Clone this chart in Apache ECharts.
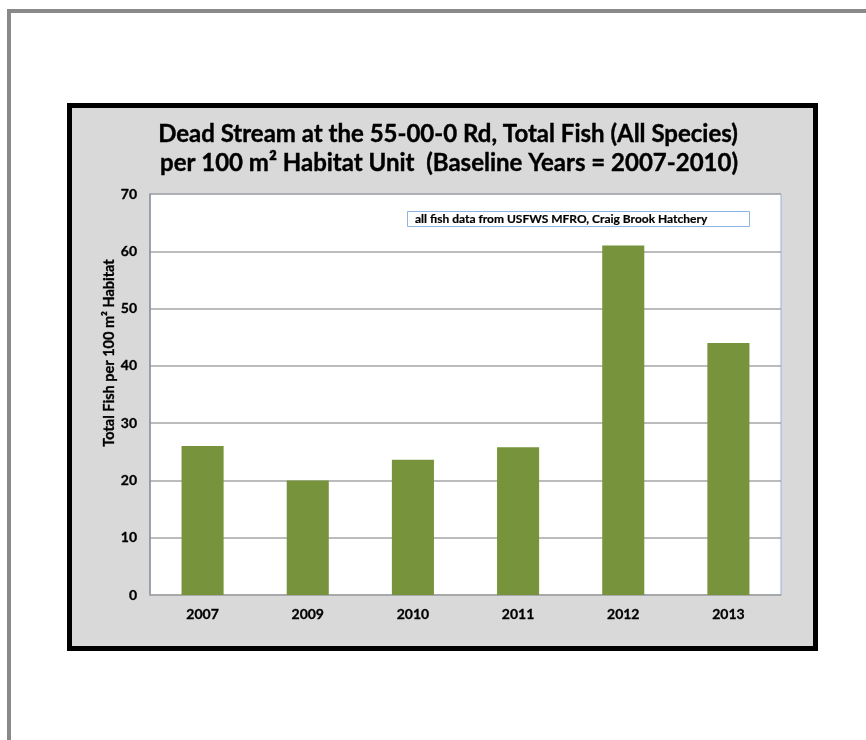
<!DOCTYPE html>
<html>
<head>
<meta charset="utf-8">
<script src="https://cdn.jsdelivr.net/npm/echarts@6/dist/echarts.min.js"></script>
<style>
  html, body { margin: 0; padding: 0; background: #ffffff; }
  #chart { width: 866px; height: 740px; }
</style>
</head>
<body>
<div id="chart"></div>
<script>
// Survey years and total fish counts per 100 m² of habitat
var years = ['2007', '2009', '2010', '2011', '2012', '2013'];
var totalFish = [26, 20, 23.6, 25.8, 61, 44];
var yTicks = { min: 0, max: 70, interval: 10 };

var titleLines = [
  'Dead Stream at the 55-00-0 Rd, Total Fish (All Species)',
  'per 100 m\u00b2 Habitat Unit  (Baseline Years = 2007-2010)'
];
var yTitle = 'Total Fish per 100 m\u00b2 Habitat';
var sourceNote = 'all fish data from USFWS MFRO, Craig Brook Hatchery';

var FONT = 'Lato, "Open Sans", sans-serif';

var chart = echarts.init(document.getElementById('chart'), null, { renderer: 'canvas' });

chart.setOption({
  backgroundColor: '#ffffff',
  animation: false,
  graphic: [
    // page frame lines
    { type: 'line', z: -10, shape: { x1: 7, y1: 11, x2: 866, y2: 11 },
      style: { stroke: '#898989', lineWidth: 4 } },
    { type: 'line', z: -10, shape: { x1: 9, y1: 9, x2: 9, y2: 740 },
      style: { stroke: '#898989', lineWidth: 4 } },
    // chart area panel
    { type: 'rect', z: -5, shape: { x: 69.5, y: 105.5, width: 746, height: 543 },
      style: { fill: '#d9d9d9', stroke: '#000000', lineWidth: 5 } },
    // title
    { type: 'text', z: 10, style: { text: titleLines[0], x: 448, y: 134, align: 'center', verticalAlign: 'middle',
      font: 'bold 24px ' + FONT, fill: '#000000', stroke: '#000000', lineWidth: 0.4 } },
    { type: 'text', z: 10, style: { text: titleLines[1], x: 449, y: 163, align: 'center', verticalAlign: 'middle',
      font: 'bold 24px ' + FONT, fill: '#000000', stroke: '#000000', lineWidth: 0.4 } },
    // y axis title
    { type: 'text', z: 10, x: 109, y: 353, rotation: Math.PI / 2,
      style: { text: yTitle, x: 0, y: 0, align: 'center', verticalAlign: 'middle',
        font: 'bold 14.5px ' + FONT, fill: '#000000', stroke: '#000000', lineWidth: 0.3 } },
    // source note box
    { type: 'rect', z: 10, shape: { x: 407.5, y: 211.5, width: 342, height: 15 },
      style: { fill: '#ffffff', stroke: '#8eb4e3', lineWidth: 1 } },
    { type: 'text', z: 11, style: { text: sourceNote, x: 415, y: 219, align: 'left', verticalAlign: 'middle',
      font: 'bold 12px ' + FONT, fill: '#000000', stroke: '#000000', lineWidth: 0.2 } }
  ],
  grid: {
    left: 150, top: 194, width: 631, height: 401,
    show: true, backgroundColor: '#ffffff', borderColor: '#95b3d7', borderWidth: 1,
    containLabel: false
  },
  xAxis: {
    type: 'category',
    data: years,
    axisLine: { show: true, lineStyle: { color: '#a6a6a6', width: 1.5 } },
    axisTick: { show: false },
    axisLabel: { color: '#000000', fontFamily: FONT, fontWeight: 'bold', fontSize: 14, margin: 12,
      textBorderColor: '#000000', textBorderWidth: 0.3 }
  },
  yAxis: {
    type: 'value',
    min: yTicks.min, max: yTicks.max, interval: yTicks.interval,
    axisLine: { show: true, lineStyle: { color: '#8a919b', width: 1.5 } },
    axisTick: { show: false },
    splitLine: { show: true, lineStyle: { color: '#a6a6a6', width: 1.5 } },
    axisLabel: { color: '#000000', fontFamily: FONT, fontWeight: 'bold', fontSize: 14, margin: 13,
      textBorderColor: '#000000', textBorderWidth: 0.3 }
  },
  series: [{
    type: 'bar',
    data: totalFish,
    barCategoryGap: '60%',
    itemStyle: { color: '#77933c' }
  }]
});
</script>
</body>
</html>
